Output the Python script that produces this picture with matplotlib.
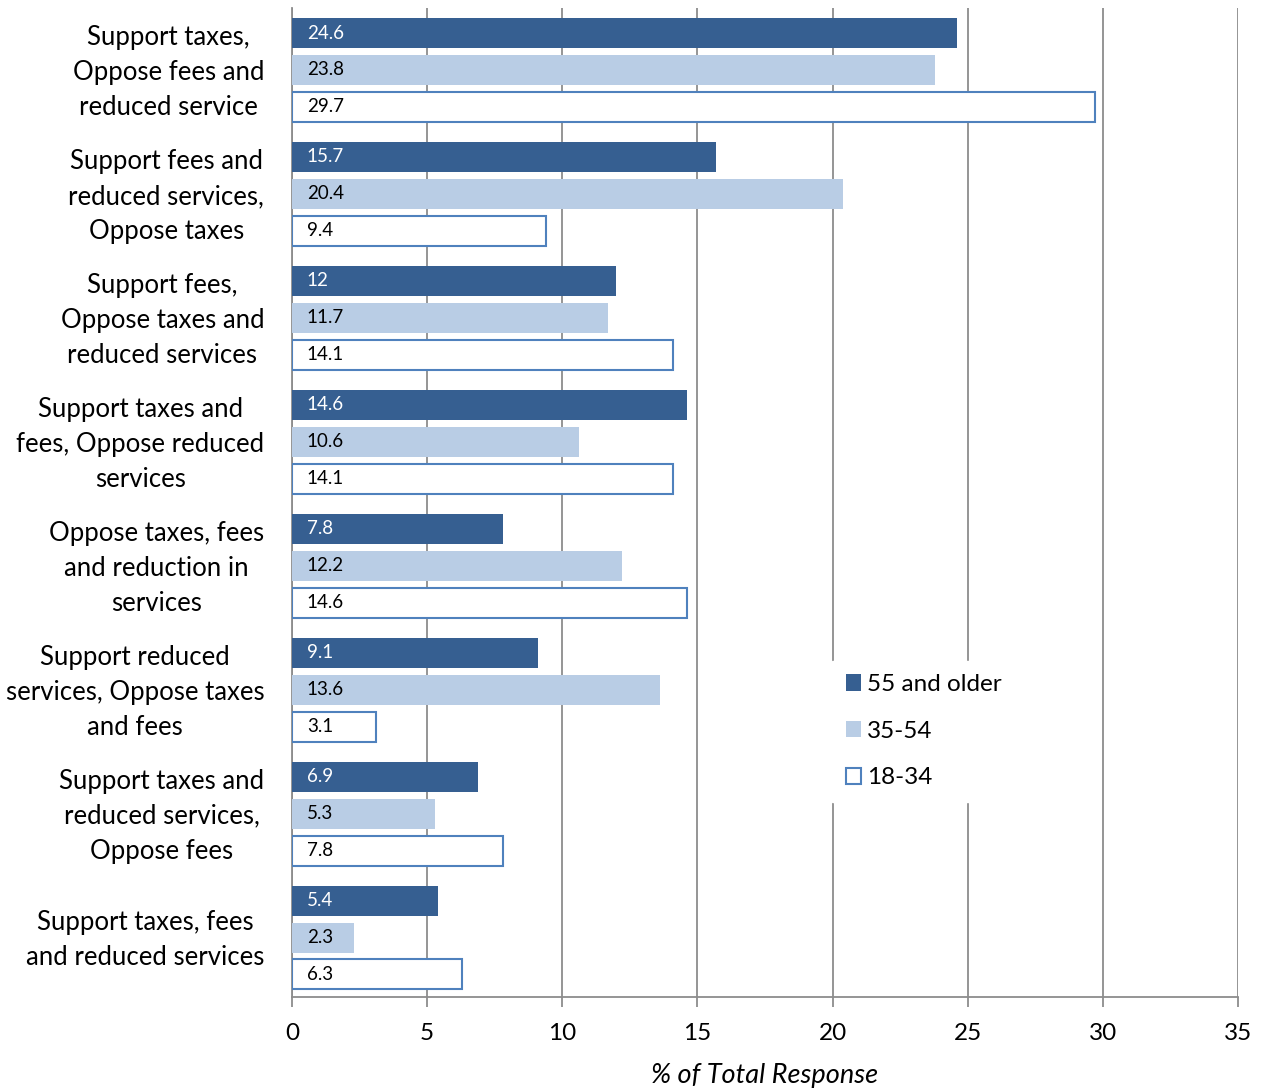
import numpy as np
import matplotlib
matplotlib.use("Agg")
import matplotlib.pyplot as plt
import matplotlib.transforms as mtransforms

plt.rcParams['font.family'] = ['Lato', 'DejaVu Sans']

categories = [
    "Support taxes,\nOppose fees and\nreduced service",
    "Support fees and\nreduced services,\nOppose taxes",
    "Support fees,\nOppose taxes and\nreduced services",
    "Support taxes and\nfees, Oppose reduced\nservices",
    "Oppose taxes, fees\nand reduction in\nservices",
    "Support reduced\nservices, Oppose taxes\nand fees",
    "Support taxes and\nreduced services,\nOppose fees",
    "Support taxes, fees\nand reduced services",
]
age_55_plus = [24.6, 15.7, 12, 14.6, 7.8, 9.1, 6.9, 5.4]
age_35_54 = [23.8, 20.4, 11.7, 10.6, 12.2, 13.6, 5.3, 2.3]
age_18_34 = [29.7, 9.4, 14.1, 14.1, 14.6, 3.1, 7.8, 6.3]
series_names = ["55 and older", "35-54", "18-34"]

dark = "#365F91"
light = "#B9CDE5"
edge = "#4F81BD"
grid_c = "#8C8C8C"

fig = plt.figure(figsize=(12.64, 10.92), dpi=100)
ax = fig.add_axes([292 / 1264, 1 - 997 / 1092, (1238 - 292) / 1264, (997 - 8) / 1092])

y = np.arange(len(categories))
h = 0.242
off = 0.298

b1 = ax.barh(y - off, age_55_plus, height=h, color=dark, label=series_names[0], zorder=3)
b2 = ax.barh(y, age_35_54, height=h, color=light, label=series_names[1], zorder=3)
b3 = ax.barh(y + off, age_18_34, height=h, color="white", edgecolor=edge, linewidth=1.5,
             label=series_names[2], zorder=3)

for bars, vals, tc in [(b1, age_55_plus, "white"), (b2, age_35_54, "black"), (b3, age_18_34, "black")]:
    for rect, v in zip(bars, vals):
        ax.text(0.55, rect.get_y() + rect.get_height() / 2, f"{v:g}", color=tc,
                va="center", ha="left", fontsize=13.5, zorder=4)

ax.set_xlim(0, 35)
ax.set_ylim(7.48, -0.5)
ax.set_xticks(np.arange(0, 36, 5))
ax.set_yticks(y)
ax.set_yticklabels(categories, fontsize=18.5, multialignment="center", linespacing=1.5)
ax.tick_params(axis="y", length=0, pad=20)
ax.tick_params(axis="x", direction="out", length=7, width=1.3, color=grid_c, labelsize=17.5, pad=12)

# nudge category labels up a little
shift = mtransforms.ScaledTranslation(0, 5 / 100, fig.dpi_scale_trans)
for lab in ax.get_yticklabels():
    lab.set_transform(lab.get_transform() + shift)

ax.grid(axis="x", color=grid_c, linewidth=1.3, zorder=0)
for s in ["top", "right"]:
    ax.spines[s].set_visible(False)
for s in ["left", "bottom"]:
    ax.spines[s].set_color(grid_c)
    ax.spines[s].set_linewidth(1.3)

ax.set_xlabel("% of Total Response", fontsize=19.5, style="italic")
ax.xaxis.set_label_coords(0.5, -0.079, transform=ax.transAxes)
ax.xaxis.label.set_va("center")

leg = ax.legend(loc="upper left", bbox_to_anchor=(0.571, 0.34), frameon=True, fontsize=17.5,
                handlelength=0.65, handleheight=0.65, handletextpad=0.25, labelspacing=1.05,
                borderpad=0.55, borderaxespad=0, fancybox=False)
leg.get_frame().set_edgecolor("white")
leg.get_frame().set_facecolor("white")
leg.get_frame().set_alpha(1)
leg.set_zorder(5)

fig.savefig("out.png", dpi=100)
